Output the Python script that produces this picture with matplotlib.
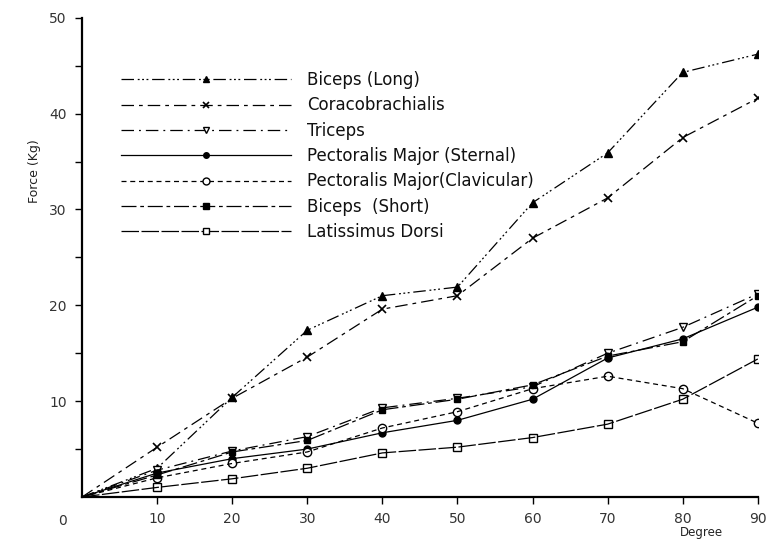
import matplotlib.pyplot as plt
import numpy as np

# Force (Kg) against abduction angle (degree)
degree = [0, 10, 20, 30, 40, 50, 60, 70, 80, 90]

biceps_long = [0, 3.0, 10.4, 17.4, 21.0, 21.9, 30.7, 35.9, 44.3, 46.2]
coracobrachialis = [0, 5.2, 10.3, 14.6, 19.6, 21.0, 27.0, 31.2, 37.5, 41.6]
triceps = [0, 2.8, 4.8, 6.3, 9.3, 10.3, 11.5, 15.0, 17.7, 21.2]
pect_sternal = [0, 2.5, 4.0, 5.0, 6.7, 8.0, 10.2, 14.5, 16.5, 19.8]
pect_clavicular = [0, 2.0, 3.5, 4.7, 7.2, 8.9, 11.3, 12.6, 11.3, 7.7]
biceps_short = [0, 2.3, 4.7, 5.9, 9.1, 10.2, 11.7, 14.7, 16.2, 21.0]
latissimus = [0, 1.0, 1.9, 3.0, 4.6, 5.2, 6.2, 7.6, 10.2, 14.4]

labels = ["Biceps (Long)", "Coracobrachialis", "Triceps",
          "Pectoralis Major (Sternal)", "Pectoralis Major(Clavicular)",
          "Biceps  (Short)", "Latissimus Dorsi"]

series = [biceps_long, coracobrachialis, triceps, pect_sternal,
          pect_clavicular, biceps_short, latissimus]

styles = [
    dict(ls=(0, (10, 3, 1.5, 2, 1.5, 2, 1.5, 3)), marker='^', mfc='black', ms=6),
    dict(ls=(0, (10, 4, 3, 4)), marker='x', mfc='black', ms=6, mew=1.2),
    dict(ls=(0, (10, 4, 1.5, 4)), marker='v', mfc='white', ms=6),
    dict(ls='-', marker='o', mfc='black', ms=5),
    dict(ls=(0, (4, 3)), marker='o', mfc='white', ms=6),
    dict(ls=(0, (12, 3, 3, 3)), marker='s', mfc='black', ms=5),
    dict(ls=(0, (14, 2)), marker='s', mfc='white', ms=6),
]

fig = plt.figure(figsize=(7.67, 5.44), dpi=100)
ax = fig.add_axes([0.107, 0.0864, 0.881, 0.881])

for vals, lab, st in zip(series, labels, styles):
    ax.plot(degree[1:], vals[1:], color='black', lw=0.9, linestyle='none',
            marker=st['marker'], mfc=st['mfc'], mec='black', ms=st['ms'],
            mew=st.get('mew', 1.0))
    ax.plot(degree, vals, color='black', lw=0.9, linestyle=st['ls'])
    # legend proxy
    ax.plot([], [], color='black', lw=0.9, linestyle=st['ls'],
            marker=st['marker'], mfc=st['mfc'], mec='black',
            ms=st['ms'] - 1, mew=st.get('mew', 1.0), label=lab)

ax.set_xlim(0, 90)
ax.set_ylim(0, 50)
ax.set_xticks(range(10, 91, 10))
ax.set_yticks(range(5, 51, 5))
ax.set_yticklabels(['' if v % 10 else str(v) for v in range(5, 51, 5)])
ax.tick_params(axis='both', direction='out', length=5, width=1,
               labelsize=10, labelcolor='#333333', pad=6)

for s in ['top', 'right']:
    ax.spines[s].set_visible(False)
for s in ['left', 'bottom']:
    ax.spines[s].set_linewidth(1.6)

ax.text(-2.6, -2.5, "0", fontsize=10, color='#333333', ha='center',
        va='center', clip_on=False)
ax.text(82.5, -3.7, "Degree", fontsize=8.5, color='#222222', ha='center',
        va='center', clip_on=False)
ax.text(-6.3, 34, "Force (Kg)", fontsize=9, color='#222222', rotation=90,
        ha='center', va='center', clip_on=False)

leg = ax.legend(loc='upper left', bbox_to_anchor=(0.035, 0.92), frameon=False,
                handlelength=10.2, numpoints=1, fontsize=12,
                labelspacing=0.44, handletextpad=1.0)
for t in leg.get_texts():
    t.set_color('#111111')

plt.savefig("out.png", dpi=100)
